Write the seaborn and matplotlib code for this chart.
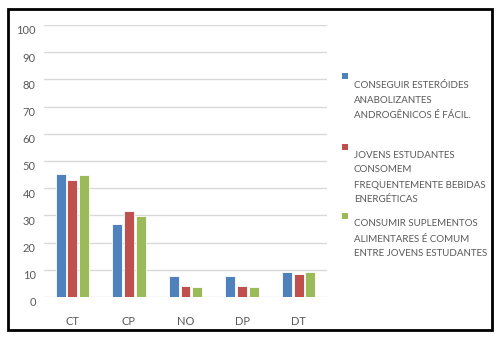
import matplotlib
matplotlib.use("Agg")
import matplotlib.pyplot as plt
import matplotlib.transforms as mtransforms
from matplotlib.patches import Rectangle
import seaborn as sns
import pandas as pd

categories = ["CT", "CP", "NO", "DP", "DT"]
series_names = [
    "CONSEGUIR ESTERÓIDES\nANABOLIZANTES\nANDROGÊNICOS É FÁCIL.",
    "JOVENS ESTUDANTES\nCONSOMEM\nFREQUENTEMENTE BEBIDAS\nENERGÉTICAS",
    "CONSUMIR SUPLEMENTOS\nALIMENTARES É COMUM\nENTRE JOVENS ESTUDANTES",
]
vals_steroids = [45.1, 26.8, 7.8, 7.8, 9.3]
vals_energy = [42.9, 31.6, 4.0, 4.0, 8.5]
vals_supplements = [44.7, 29.9, 3.8, 3.8, 9.3]
yticks = [0, 10, 20, 30, 40, 50, 60, 70, 80, 90, 100]
colors = ["#4F81BD", "#C0504D", "#9BBB59"]

rows = []
for name, vals in zip(series_names, [vals_steroids, vals_energy, vals_supplements]):
    for c, v in zip(categories, vals):
        rows.append({"cat": c, "serie": name, "val": v})
df = pd.DataFrame(rows)

sns.set_theme(style="white")
plt.rcParams["font.family"] = ["Lato", "DejaVu Sans"]

W, H = 502, 342
fig = plt.figure(figsize=(W / 100, H / 100), dpi=100)
fig.patch.set_facecolor("white")

# Outer border
fig.patches.append(Rectangle((8 / W, 1 - 330 / H), 484 / W, 321 / H,
                             transform=fig.transFigure, fill=False,
                             edgecolor="black", linewidth=2.0))

ax = fig.add_axes([44 / W, 1 - 297 / H, 283 / W, 272 / H])
sns.barplot(data=df, x="cat", y="val", hue="serie", order=categories,
            hue_order=series_names, palette=colors, saturation=1,
            width=0.62, gap=0.15, edgecolor="white", linewidth=0.6,
            legend=False, ax=ax, zorder=3)

ax.set_ylim(0, 100)
ax.set_xlim(-0.5, 4.5)
ax.set_yticks(yticks)
ax.set_yticklabels([str(t) for t in yticks])
ax.set_xlabel("")
ax.set_ylabel("")
ax.grid(axis="y", color="#D9D9D9", linewidth=1.0, zorder=0)
ax.set_axisbelow(True)
for s in ax.spines.values():
    s.set_visible(False)
ax.tick_params(axis="both", length=0, labelsize=8, labelcolor="#595959")
ax.tick_params(axis="y", pad=6)
ax.tick_params(axis="x", pad=13.5)
offset = mtransforms.ScaledTranslation(0, -5 / 100, fig.dpi_scale_trans)
for lbl in ax.get_yticklabels():
    lbl.set_transform(lbl.get_transform() + offset)

# Legend (Excel-like: square above first text line)
square_y = [76, 147, 216]
text_y0 = [86, 155, 224]
line_h = 15
for name, col, sy, ty in zip(series_names, colors, square_y, text_y0):
    fig.patches.append(Rectangle((342 / W, 1 - (sy + 3) / H), 6 / W, 6 / H,
                                 transform=fig.transFigure, facecolor=col,
                                 edgecolor="none"))
    for i, line in enumerate(name.split("\n")):
        fig.text(354 / W, 1 - (ty + i * line_h) / H, line, fontsize=7,
                 color="#595959", ha="left", va="center")

fig.savefig("out.png", dpi=100, facecolor="white")
